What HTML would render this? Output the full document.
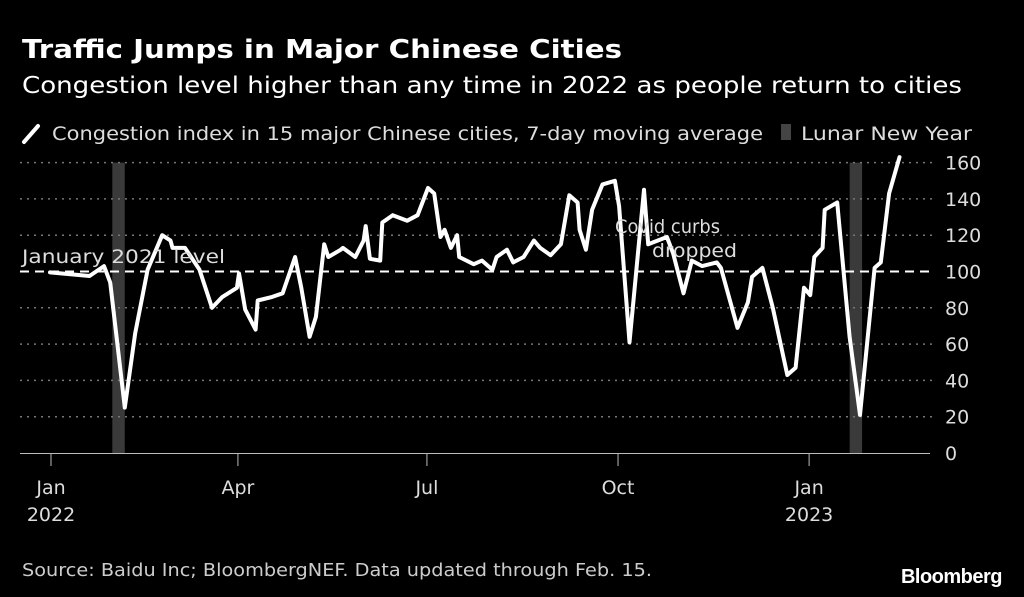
<!DOCTYPE html>
<html><head><meta charset="utf-8"><style>
body{margin:0;background:#000;width:1024px;height:597px;overflow:hidden;font-family:"DejaVu Sans","Liberation Sans",sans-serif;color:#fff}
svg{position:absolute;left:0;top:0}
</style></head><body>
<svg width="1024" height="597">
<text x="22" y="58" font-size="26" font-weight="bold" fill="#fff" textLength="600" lengthAdjust="spacingAndGlyphs">Traffic Jumps in Major Chinese Cities</text>
<text x="22" y="93" font-size="23" fill="#fff" textLength="940" lengthAdjust="spacingAndGlyphs">Congestion level higher than any time in 2022 as people return to cities</text>
<g>
<line x1="24" y1="142" x2="38" y2="126" stroke="#fff" stroke-width="4" stroke-linecap="round"/>
<text x="52" y="140" font-size="19" fill="#ddd" textLength="711" lengthAdjust="spacingAndGlyphs">Congestion index in 15 major Chinese cities, 7-day moving average</text>
<rect x="781" y="124" width="10" height="16" fill="#444"/>
<text x="801" y="140" font-size="19" fill="#ddd" textLength="171" lengthAdjust="spacingAndGlyphs">Lunar New Year</text>
</g>
<g id="bands"></g><g id="grid"></g><g id="axis"></g>
<path id="line" fill="none" stroke="#fff" stroke-width="4" stroke-linejoin="round" stroke-linecap="round"/>
<text x="22" y="263" font-size="19" fill="#ddd" textLength="203" lengthAdjust="spacingAndGlyphs">January 2021 level</text>
<text x="615" y="233" font-size="19" fill="#ddd" textLength="105" lengthAdjust="spacingAndGlyphs">Covid curbs</text>
<text x="652" y="257" font-size="19" fill="#ddd" textLength="85" lengthAdjust="spacingAndGlyphs">dropped</text>
<text x="22" y="576" font-size="18" fill="#ccc" textLength="630" lengthAdjust="spacingAndGlyphs">Source: Baidu Inc; BloombergNEF. Data updated through Feb. 15.</text>
<text x="1002" y="583" font-size="20" font-weight="bold" fill="#fff" text-anchor="end" font-family="Liberation Sans" letter-spacing="-0.5">Bloomberg</text>
</svg>
<script>
const days=[0,19,26,29,36,41,47,54,58,59,65,72,78,83,90,91,94,99,100,107,112,118,121,125,128,132,134,140,141,147,151,152,154,159,160,165,172,177,182,185,188,190,193,196,197,204,208,213,215,220,223,228,233,236,241,246,250,254,255,258,261,266,272,274,279,286,288,297,300,305,309,314,321,323,331,336,338,343,348,355,359,363,366,368,372,373,379,385,390,397,400,404,409];
const values=[99.5,97.5,103,94,25,66,101,120,117,113,113,101,80,86,91,99,79,68,84,86,88,108,91,64,75,115,108,112,113,108,117,125,107,106,127,131,128,131,146,143,119,123,113,120,108,104,106,101,108,112,105,108,117,113,109,115,142,138,123,112,134,148,150,136,61,145,115,119,110,88,106,103,105,102,69,83,97,102,80,43,47,91,87,108,113,134,138,64,21,102,105,143,163];
const yTicks=[0,20,40,60,80,100,120,140,160];
const xTickDays=[0,90,181,273,365];
const xTickLabels=["Jan","Apr","Jul","Oct","Jan"];
const xTickYears=["2022","","","","2023"];
const bandStarts=[30,385];
const bandEnds=[36,391];
const NS="http://www.w3.org/2000/svg";
const X=d=>50+d*2.077, Y=v=>453-v*1.815;
function mk(tag,attrs,parent){const e=document.createElementNS(NS,tag);for(const k in attrs)e.setAttribute(k,attrs[k]);document.getElementById(parent).appendChild(e);return e;}
bandStarts.forEach((s,i)=>{const r=mk('rect',{x:X(s),y:Y(160),width:X(bandEnds[i])-X(s),height:Y(0)-Y(160),fill:'#3a3a3a'},'bands');

});
yTicks.forEach(v=>{if(v>0&&v!==100){const l=mk('line',{x1:20,x2:932,y1:Y(v),y2:Y(v),stroke:'#777','stroke-width':1.5,'stroke-dasharray':'2 5'},'grid');

}
const t=mk('text',{x:945,y:Y(v)+7,'font-size':19,fill:'#ddd'},'axis');t.textContent=v;

});
const ref=mk('line',{x1:20,x2:932,y1:Y(100),y2:Y(100),stroke:'#fff','stroke-width':2,'stroke-dasharray':'9 6'},'grid');


const ax=mk('line',{x1:20,x2:930,y1:453.5,y2:453.5,stroke:'#bbb','stroke-width':1},'axis');


xTickDays.forEach((d,i)=>{const tk=mk('line',{x1:X(d)+1,x2:X(d)+1,y1:453,y2:466,stroke:'#bbb','stroke-width':1},'axis');


const t=mk('text',{x:X(d)+1,y:494,'font-size':19,fill:'#ddd','text-anchor':'middle'},'axis');t.textContent=xTickLabels[i];


if(xTickYears[i]){const y=mk('text',{x:X(d)+1,y:521,'font-size':19,fill:'#ddd','text-anchor':'middle'},'axis');y.textContent=xTickYears[i];

}});
document.getElementById('line').setAttribute('d',days.map((d,i)=>(i?'L':'M')+X(d).toFixed(1)+' '+Y(values[i]).toFixed(1)).join(' '));
</script>
</body></html>
